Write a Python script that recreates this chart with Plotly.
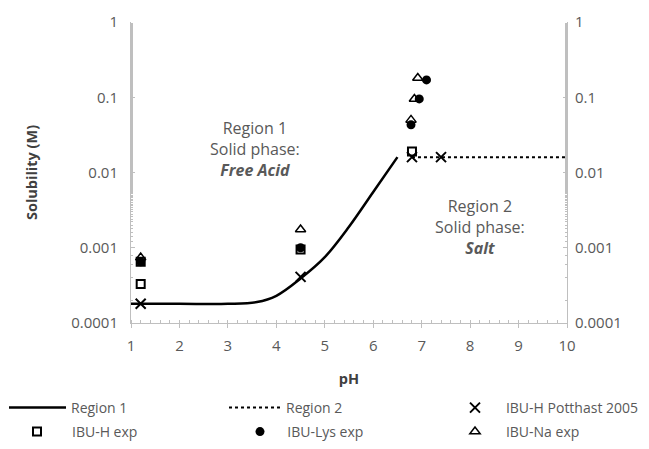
import plotly.graph_objects as go

# Region 1 curve
r1_ph = [1.0, 2.0, 3.0, 3.6, 4.0, 4.5, 5.0, 5.5, 6.0, 6.5]
r1_s = [1.8e-4, 1.8e-4, 1.8e-4, 1.9e-4, 2.3e-4, 3.9e-4, 7.5e-4, 1.9e-3, 5.5e-3, 0.016]
# Region 2 line
r2_ph = [6.8, 10.0]
r2_s = [0.016, 0.016]
# IBU-H Potthast 2005
pot_ph = [1.2, 4.5, 6.8, 7.4]
pot_s = [1.8e-4, 4.1e-4, 0.016, 0.016]
# IBU-H exp
ibuh_ph = [1.2, 1.2, 4.5, 6.8]
ibuh_s = [3.3e-4, 6.5e-4, 9.5e-4, 0.019]
# IBU-Lys exp
lys_ph = [1.2, 4.5, 6.78, 6.95, 7.1]
lys_s = [6.5e-4, 1.0e-3, 0.043, 0.095, 0.17]
# IBU-Na exp
na_ph = [1.2, 4.5, 6.78, 6.85, 6.92]
na_s = [7.4e-4, 1.75e-3, 0.05, 0.095, 0.18]

FONT = "Open Sans"
GRAY = "#595959"
DARK = "#404040"
AX = "#bfbfbf"
NB = "\u00a0"

fig = go.Figure()
fig.add_trace(go.Scatter(x=r1_ph, y=r1_s, mode="lines", name="Region 1", legend="legend",
                         line=dict(color="black", width=2.5, shape="spline")))
fig.add_trace(go.Scatter(x=r2_ph, y=r2_s, mode="lines", name="Region 2", legend="legend2",
                         line=dict(color="black", width=2, dash="dot")))
fig.add_trace(go.Scatter(x=pot_ph, y=pot_s, mode="markers", name=NB * 3 + "IBU-H Potthast 2005",
                         legend="legend3",
                         marker=dict(symbol="x-thin-open", size=10, color="black",
                                     line=dict(color="black", width=2))))
fig.add_trace(go.Scatter(x=ibuh_ph, y=ibuh_s, mode="markers", name="IBU-H exp",
                         legend="legend4",
                         marker=dict(symbol="square-open", size=8, color="black",
                                     line=dict(color="black", width=2))))
fig.add_trace(go.Scatter(x=lys_ph, y=lys_s, mode="markers", name=NB * 2 + "IBU-Lys exp",
                         legend="legend5",
                         marker=dict(symbol="circle", size=9, color="black")))
fig.add_trace(go.Scatter(x=na_ph, y=na_s, mode="markers", name=NB * 3 + "IBU-Na exp",
                         legend="legend6",
                         marker=dict(symbol="triangle-up-open", size=9, color="black",
                                     line=dict(color="black", width=1.5))))
# helper for right axis
fig.add_trace(go.Scatter(x=[None], y=[None], yaxis="y2", showlegend=False,
                         hoverinfo="skip"))

yvals = [1e-4, 1e-3, 1e-2, 1e-1, 1]
ytext = ["0.0001", "0.001", "0.01", "0.1", "1"]
common_y = dict(type="log", range=[-4, 0], tickvals=yvals, ticktext=ytext,
                showgrid=False, showline=True, linecolor=AX, linewidth=1,
                ticks="inside", ticklen=4, tickcolor=AX,
                minor=dict(ticks="inside", ticklen=2, tickcolor=AX, showgrid=False),
                tickfont=dict(family=FONT, size=15, color=GRAY), zeroline=False)

PW, PH = 436.0, 301.0  # plot size in px
L, B = 131, 323


def leg(px, py, iw=30):
    return dict(orientation="h", xanchor="left", yanchor="middle",
                xref="paper", yref="paper", x=(px - L) / PW, y=(B - py) / PH,
                itemwidth=iw,
                font=dict(family=FONT, size=14, color=GRAY), bgcolor="rgba(0,0,0,0)")


fig.update_layout(
    width=649, height=449,
    margin=dict(l=131, r=82, t=22, b=126, autoexpand=False),
    plot_bgcolor="white", paper_bgcolor="white",
    font=dict(family=FONT, size=12, color=GRAY),
    xaxis=dict(range=[1, 10], tickvals=list(range(1, 11)), showgrid=False,
               showline=True, linecolor=AX, linewidth=1, zeroline=False,
               ticks="outside", ticklen=4, tickcolor=AX, ticklabelstandoff=5,
               minor=dict(ticks="inside", ticklen=3, tickcolor=AX, dtick=0.2),
               tickfont=dict(family=FONT, size=15, color=GRAY),
               title=dict(text="<b>pH</b>", font=dict(family=FONT, size=14.5, color=DARK),
                          standoff=19)),
    yaxis=dict(**common_y, ticklabelstandoff=9,
               title=dict(text="<b>Solubility (M)</b>",
                          font=dict(family=FONT, size=14.5, color=DARK), standoff=30)),
    yaxis2=dict(**common_y, overlaying="y", side="right", ticklabelstandoff=4),
    legend=leg(4, 408, 57),
    legend2=leg(224, 408, 52),
    legend3=leg(455, 408),
    legend4=leg(2, 432, 60),
    legend5=leg(240, 432),
    legend6=leg(455, 432),
    showlegend=True,
)

fig.add_annotation(x=3.56, y=-1.69, xref="x", yref="y",
                   text="Region 1<br>Solid phase:<br><b><i>Free Acid</i></b>",
                   showarrow=False, font=dict(family=FONT, size=16, color=GRAY),
                   align="center")
fig.add_annotation(x=8.2, y=-2.73, xref="x", yref="y",
                   text="Region 2<br>Solid phase:<br><b><i>Salt</i></b>",
                   showarrow=False, font=dict(family=FONT, size=16, color=GRAY),
                   align="center")

fig.write_html("out.html")
